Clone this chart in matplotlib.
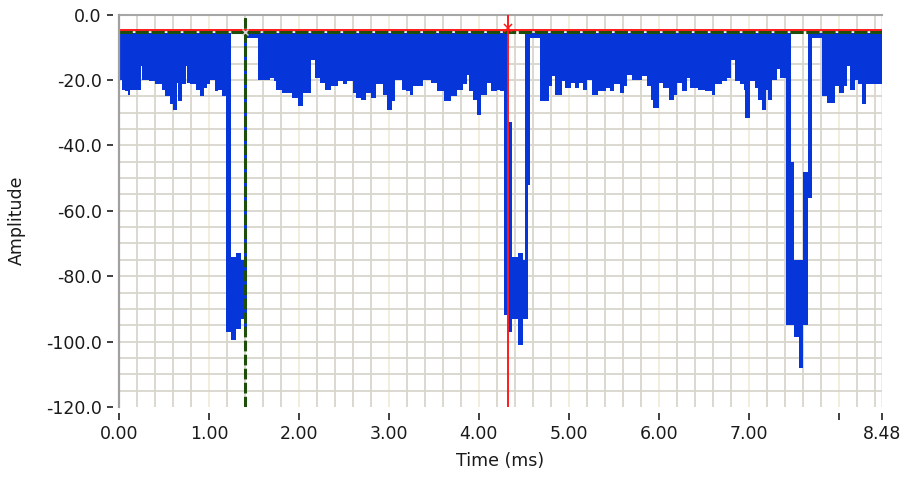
import matplotlib
matplotlib.use('Agg')
import matplotlib.pyplot as plt
import numpy as np
from matplotlib.ticker import FixedLocator, MultipleLocator, FixedFormatter

plt.rcParams['font.family'] = ['DejaVu Sans']
plt.rcParams['axes.unicode_minus'] = False
plt.rcParams['lines.scale_dashes'] = False

# ---------------- data ----------------
T = -5.8  # upper edge of the dense signal band (dB)

seg_t = [0.00, 0.03, 0.067, 0.10, 0.12, 0.245, 0.26, 0.33, 0.40, 0.475, 0.51, 0.567, 0.60,
         0.64, 0.66, 0.70, 0.74, 0.76, 0.79, 0.86, 0.90, 0.94, 0.975, 1.01, 1.07, 1.10, 1.14,
         1.19, 1.25, 1.30, 1.36, 1.39, 1.42,
         1.55, 1.68, 1.72, 1.75, 1.81, 1.92, 1.99, 2.05, 2.14, 2.18, 2.24, 2.29, 2.36, 2.44,
         2.49, 2.54, 2.60, 2.63, 2.69, 2.75, 2.80, 2.86, 2.93, 2.98, 3.04, 3.07, 3.15, 3.19,
         3.24, 3.27, 3.38, 3.47, 3.54, 3.61, 3.69, 3.76, 3.83, 3.87, 3.89, 3.94, 3.98, 4.03,
         4.09, 4.14, 4.20, 4.24,
         4.28, 4.33, 4.37, 4.44, 4.49, 4.51, 4.55, 4.57,
         4.68, 4.78, 4.81, 4.85, 4.92, 4.96, 5.02, 5.07, 5.11, 5.16, 5.20, 5.26, 5.33, 5.41,
         5.46, 5.50, 5.57, 5.61, 5.65, 5.70, 5.81, 5.87, 5.91, 5.94, 6.00, 6.05, 6.11, 6.17,
         6.20, 6.26, 6.31, 6.35, 6.44, 6.52, 6.59, 6.63, 6.70, 6.76, 6.80, 6.85, 6.91, 6.95,
         6.96, 7.02, 7.07, 7.11, 7.15, 7.19, 7.22, 7.26, 7.32, 7.35,
         7.42, 7.47, 7.51, 7.56, 7.61, 7.66, 7.71,
         7.82, 7.87, 7.96, 8.00, 8.06, 8.09, 8.13, 8.18, 8.22, 8.26, 8.30, 8.39]

seg_hi = [T] * 27 + \
         [T, -74, -73, -75, T, T] + \
         [T] * 46 + \
         [T, -33, -74, -73, -75, T, T, T] + \
         [T] * 52 + \
         [T, -45, -75, -75, -48, T, T] + \
         [T] * 12

seg_lo = [-19.9, -23.0, -23.5, -24.5, -23.2, -15.8, -19.9, -20.4, -21.4, -23.0, -25.0, -27.5, -29.1,
          -20.9, -26.5, -21.4, -15.8, -20.9, -21.4, -23.0, -25.0, -22.4, -21.4, -19.9, -23.5, -23.0, -25.0,
          -97.0, -99.5, -96.0, -93.0, -97.0, -7.2,
          -19.9, -19.4, -20.4, -23.0, -24.0, -25.5, -28.0, -24.0, -13.8, -19.4, -20.9, -23.0, -22.0, -20.4,
          -21.4, -20.4, -24.0, -25.5, -26.0, -24.0, -25.5, -21.4, -24.5, -29.1, -26.5, -19.9, -23.0, -23.5,
          -24.5, -21.9, -19.9, -20.9, -23.5, -26.5, -25.0, -23.0, -21.4, -18.4, -23.5, -26.0, -30.6, -24.5,
          -20.9, -23.5, -23.0, -23.5,
          -92.0, -97.0, -93.0, -101.0, -93.0, -93.0, -52.0, -7.1,
          -26.5, -21.9, -18.9, -24.5, -20.4, -22.4, -20.9, -22.4, -20.9, -23.0, -19.9, -24.5, -23.5, -22.4,
          -23.5, -21.4, -24.0, -21.9, -18.4, -19.9, -18.9, -21.9, -26.0, -28.6, -20.9, -22.4, -26.0, -24.5,
          -20.9, -23.5, -19.4, -22.4, -23.0, -23.5, -24.5, -21.4, -20.4, -19.4, -13.8, -20.4, -21.4, -23.0,
          -31.6, -20.4, -22.4, -26.0, -29.1, -23.0, -26.0, -19.9, -16.8, -19.4,
          -95.0, -95.0, -98.5, -108.0, -95.0, -56.0, -7.1,
          -25.0, -27.0, -21.9, -24.0, -21.9, -15.8, -23.0, -19.9, -21.4, -27.5, -21.4, -21.4]

t_end = 8.48

level_red = -4.6      # red horizontal cursor
level_green = -5.35   # green horizontal cursor
cursor_red_t = 4.32
cursor_green_t = 1.40

x_ticks = [0, 1, 2, 3, 4, 5, 6, 7, 8, 8.48]
x_labels = ['0.00', '1.00', '2.00', '3.00', '4.00', '5.00', '6.00', '7.00', '', '8.48']
y_ticks = [0, -20, -40, -60, -80, -100, -120]
y_labels = ['0.0', '-20.0', '-40.0', '-60.0', '-80.0', '-100.0', '-120.0']

# ---------------- styles ----------------
BLUE = '#0636d9'
RED = '#ff1a1a'
GREEN = '#1f4e0c'
GRID_MINOR = '#d8d5cc'
GRID_MAJOR = '#f0edd9'
TXT = '#1a1a1a'
FS = 12.5

W, H = 902, 478
fig = plt.figure(figsize=(W / 100, H / 100), dpi=100)
fig.patch.set_facecolor('white')
left, right, top, bottom = 119, 881.7, 14.5, 407
ax = fig.add_axes([left / W, 1 - bottom / H, (right - left) / W, (bottom - top) / H])
ax.set_facecolor('white')

ax.set_xlim(0, t_end)
ax.set_ylim(-120, 0)

# grid
ax.xaxis.set_major_locator(FixedLocator(x_ticks))
ax.xaxis.set_major_formatter(FixedFormatter(x_labels))
ax.xaxis.set_minor_locator(MultipleLocator(0.2))
ax.yaxis.set_major_locator(FixedLocator(y_ticks))
ax.yaxis.set_major_formatter(FixedFormatter(y_labels))
ax.yaxis.set_minor_locator(FixedLocator(np.arange(-115, 0, 5)))
ax.yaxis.remove_overlapping_locs = False
ax.grid(which='minor', axis='x', color=GRID_MINOR, lw=1.3, zorder=0)
ax.grid(which='major', axis='x', color=GRID_MAJOR, lw=1.3, zorder=0)
ax.grid(which='minor', axis='y', color=GRID_MINOR, lw=1.3, zorder=0)
ax.set_axisbelow(True)

# signal
xs = np.array(seg_t + [t_end])
hi = np.array(seg_hi + [seg_hi[-1]])
lo = np.array(seg_lo + [seg_lo[-1]])
ax.fill_between(xs, lo, hi, step='post', color=BLUE, lw=0, zorder=2)

# cursors
ax.axhline(level_green, color=GREEN, lw=2.2, dashes=(9.6, 1.9), zorder=4)
ax.axhline(level_red, color=RED, lw=1.4, zorder=5)
ax.axvline(cursor_green_t, color=GREEN, lw=2.2, dashes=(7.7, 2.4), zorder=4)
ax.axvline(cursor_red_t, color=RED, lw=1.4, zorder=5)
ax.plot([cursor_red_t], [level_red + 0.4], marker='x', ms=6, mew=1.1, color=RED, zorder=6)
ax.plot([cursor_green_t], [level_green], marker='x', ms=5, mew=1.0, color='#d8d8d8', zorder=6)

# spines / ticks
for s in ['right', 'bottom']:
    ax.spines[s].set_visible(False)
ax.spines['top'].set_color('#a6a6a6')
ax.spines['top'].set_linewidth(1.5)
ax.spines['left'].set_position(('outward', 4.3))
ax.spines['left'].set_visible(False)
ax.spines['bottom'].set_position(('outward', 4.3))
ax.plot([0, 0], [0, 1], transform=ax.transAxes, color='#a0a0a0', lw=1.6, clip_on=False, zorder=7)

ax.tick_params(axis='both', which='minor', length=0)
ax.tick_params(axis='x', which='major', direction='out', length=5, width=1.3, color='#303030',
               pad=3.5, labelsize=FS, labelcolor=TXT)
ax.tick_params(axis='y', which='major', direction='out', length=4.5, width=1.3, color='#303030',
               pad=3.6, labelsize=FS, labelcolor=TXT)

ax.set_xlabel('Time (ms)', fontsize=FS, color=TXT)
ax.xaxis.set_label_coords(0.5, -0.114)
ax.set_ylabel('Amplitude', fontsize=FS, color=TXT)
ax.yaxis.set_label_coords(-0.122, 0.476)

fig.savefig('out.png', dpi=100, facecolor='white')
